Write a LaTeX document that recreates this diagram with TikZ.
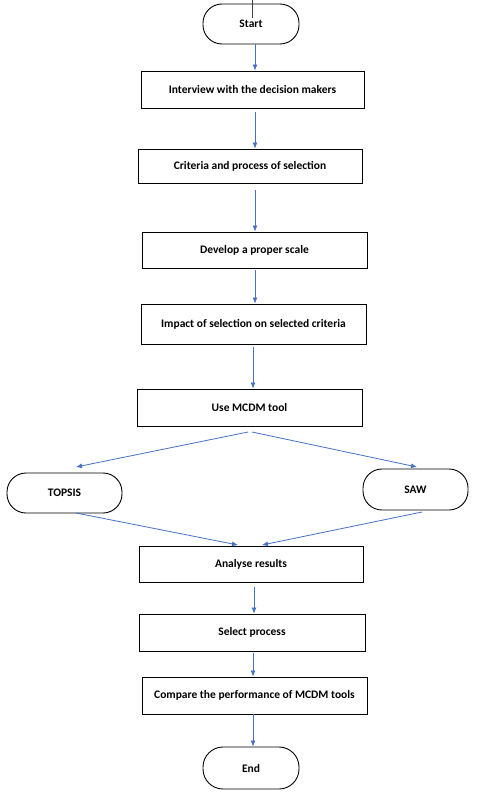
\documentclass[tikz,border=0pt]{standalone}
\usepackage{fontspec}
\setmainfont{Carlito}
\usetikzlibrary{arrows.meta,calc}
\definecolor{arrblue}{HTML}{4472C4}
\begin{document}
\begin{tikzpicture}[x=1pt,y=-1pt,
  every node/.style={font=\fontsize{11.5}{13}\selectfont\bfseries},
  procbox/.style={draw=black,line width=0.9pt,rectangle,inner sep=0pt},
  term/.style={draw=black,line width=0.9pt,rounded corners=19pt,inner sep=0pt},
  arr/.style={draw=arrblue,line width=0.8pt,-{Latex[length=6pt,width=5pt]}}]
\useasboundingbox (0,0) rectangle (480,792);
\fill[white] (0,0) rectangle (480,792);
\node[term,minimum width=96pt,minimum height=40pt] (start) at (251,24) {Start};
\node[procbox,minimum width=223pt,minimum height=37pt] (interview) at (252.5,89.5) {Interview with the decision makers};
\node[procbox,minimum width=224pt,minimum height=34pt] (criteria) at (250,166) {Criteria and process of selection};
\node[procbox,minimum width=225pt,minimum height=36pt] (develop) at (254.5,250) {Develop a proper scale};
\node[procbox,minimum width=225pt,minimum height=40pt] (impact) at (253.5,324) {Impact of selection on selected criteria};
\node[procbox,minimum width=225pt,minimum height=37pt] (mcdm) at (249.5,407.5) {Use MCDM tool};
\node[term,minimum width=115pt,minimum height=40pt] (topsis) at (64.5,493) {TOPSIS};
\node[term,minimum width=105pt,minimum height=41pt] (saw) at (415.5,489.5) {SAW};
\node[procbox,minimum width=224pt,minimum height=36pt] (analyse) at (251,564) {Analyse results};
\node[procbox,minimum width=226pt,minimum height=37pt] (select) at (252,632.5) {Select process};
\node[procbox,minimum width=225pt,minimum height=37pt] (compare) at (254.5,695.5) {Compare the performance of MCDM tools};
\node[term,minimum width=96pt,minimum height=42pt,rounded corners=20pt] (end) at (251,768) {End};
% stray line into Start
\coordinate (topc) at (252,0);
\draw[draw=black!75,line width=0.8pt] (topc) -- ($(start.north -| topc)+(0,14)$);
% vertical connectors
\coordinate (xa) at (255,0);
\coordinate (xb) at (253,0);
\coordinate (xc) at (254,0);
\draw[arr] (start.south -| xa) -- (interview.north -| xa);
\draw[arr,shorten <=4pt] (interview.south -| xa) -- (criteria.north -| xa);
\draw[arr,shorten <=7pt] (criteria.south -| xa) -- (develop.north -| xa);
\draw[arr,shorten <=2pt] (develop.south -| xa) -- (impact.north -| xa);
\draw[arr,shorten <=3pt] (impact.south -| xb) -- (mcdm.north -| xb);
% branches
\coordinate (bl) at (248,432);
\coordinate (br) at (252,432);
\coordinate (tl) at (76,467);
\coordinate (sr) at (417,467);
\draw[arr] (bl) -- (tl);
\draw[arr] (br) -- (sr);
\coordinate (tb) at (76,513);
\coordinate (sb) at (422,512);
\coordinate (al) at (238,545);
\coordinate (ar) at (262,545);
\draw[arr] (tb) -- (al);
\draw[arr] (sb) -- (ar);
\draw[arr,shorten <=5pt] (analyse.south -| xc) -- (select.north -| xc);
\draw[arr,shorten <=2pt] (select.south -| xb) -- (compare.north -| xb);
\draw[arr] (compare.south -| xb) -- (end.north -| xb);
\end{tikzpicture}
\end{document}
